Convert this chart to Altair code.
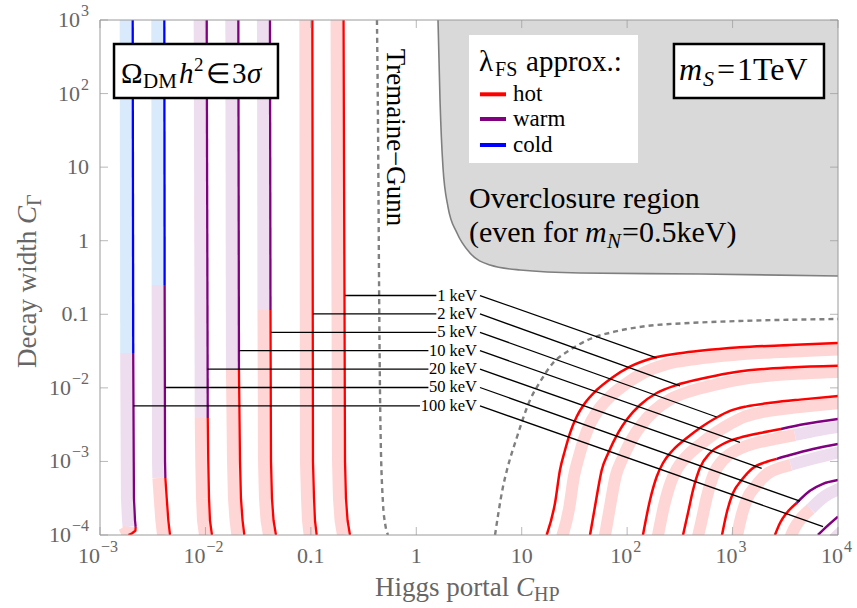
import altair as alt
import pandas as pd

SERIF = "Liberation Serif"
GREY_TXT = "#666666"

# ---------------- data: (log10 C_HP, log10 C_Gamma) ----------------
masses = ["1 keV", "2 keV", "5 keV", "10 keV", "20 keV", "50 keV", "100 keV"]

# left branch, listed top -> bottom
L1_x = [-0.690, -0.676, -0.667, -0.652, -0.629]
L1_y = [3.0, -3.0, -3.5, -3.8, -4.0]
L1_seg = [("hot", 0, 4)]
L2_x = [-0.986, -0.980, -0.970, -0.961, -0.945]
L2_y = [3.0, -3.0, -3.5, -3.8, -4.0]
L2_seg = [("hot", 0, 4)]
L5_x = [-1.388, -1.383, -1.378, -1.369, -1.354, -1.331]
L5_y = [3.0, -0.942, -3.0, -3.5, -3.8, -4.0]
L5_seg = [("warm", 0, 1), ("hot", 1, 5)]
L10_x = [-1.688, -1.682, -1.672, -1.663, -1.648, -1.631]
L10_y = [3.0, -1.757, -3.0, -3.5, -3.8, -4.0]
L10_seg = [("warm", 0, 1), ("hot", 1, 5)]
L20_x = [-1.988, -1.978, -1.973, -1.966, -1.957, -1.938]
L20_y = [3.0, -2.410, -3.0, -3.5, -3.8, -4.0]
L20_seg = [("warm", 0, 1), ("hot", 1, 5)]
L50_x = [-2.390, -2.387, -2.383, -2.380, -2.367, -2.352, -2.336]
L50_y = [3.0, -0.602, -3.0, -3.225, -3.5, -3.8, -4.0]
L50_seg = [("cold", 0, 1), ("warm", 1, 3), ("hot", 3, 6)]
L100_x = [-2.690, -2.685, -2.680, -2.678, -2.668, -2.662, -2.664, -2.695, -2.730]
L100_y = [3.0, -1.526, -3.0, -3.5, -3.8, -3.89, -3.94, -3.975, -4.0]
L100_seg = [("cold", 0, 1), ("warm", 1, 5), ("hot", 5, 8)]

# right branch, listed left -> right
R1_x = [1.237, 1.316, 1.363, 1.411, 1.458, 1.521, 1.600, 1.711, 1.853, 2.027, 2.245, 2.501, 2.690, 3.070, 3.544, 4.0]
R1_y = [-4.0, -3.565, -3.117, -2.845, -2.614, -2.392, -2.206, -2.029, -1.866, -1.712, -1.594, -1.530, -1.497, -1.449, -1.418, -1.390]
R1_seg = [("hot", 0, 15)]
R2_x = [1.648, 1.711, 1.759, 1.821, 1.913, 2.008, 2.122, 2.280, 2.470, 2.690, 2.960, 3.232, 3.544, 4.0]
R2_y = [-4.0, -3.480, -3.117, -2.886, -2.614, -2.410, -2.233, -2.070, -1.961, -1.880, -1.800, -1.752, -1.722, -1.699]
R2_seg = [("hot", 0, 13)]
R5_x = [2.150, 2.217, 2.280, 2.340, 2.435, 2.565, 2.690, 2.849, 2.975, 3.134, 3.383, 3.639, 4.0]
R5_y = [-4.0, -3.524, -3.208, -3.021, -2.845, -2.682, -2.546, -2.403, -2.314, -2.252, -2.200, -2.160, -2.111]
R5_seg = [("hot", 0, 12)]
R10_x = [2.530, 2.577, 2.625, 2.690, 2.786, 2.909, 3.070, 3.260, 3.459, 3.687, 4.0]
R10_y = [-4.0, -3.701, -3.388, -3.089, -2.886, -2.763, -2.676, -2.614, -2.559, -2.491, -2.423]
R10_seg = [("hot", 0, 8), ("warm", 8, 10)]
R20_x = [2.900, 2.944, 3.004, 3.086, 3.193, 3.324, 3.419, 3.545, 3.763, 4.0]
R20_y = [-4.0, -3.701, -3.429, -3.253, -3.089, -3.004, -2.965, -2.913, -2.832, -2.763]
R20_seg = [("hot", 0, 6), ("warm", 6, 9)]
R50_x = [3.402, 3.450, 3.513, 3.608, 3.734, 3.857, 4.0]
R50_y = [-4.0, -3.837, -3.701, -3.565, -3.400, -3.305, -3.253]
R50_seg = [("hot", 0, 3), ("warm", 3, 6)]
R100_x = [3.810, 3.892, 4.0]
R100_y = [-4.0, -3.887, -3.751]
R100_seg = [("warm", 0, 2)]

# Tremaine-Gunn bound (dashed)
TGL_x = [-0.373, -0.360, -0.354, -0.340, -0.316, -0.295, -0.268]
TGL_y = [3.0, 1.0, -0.4, -2.5, -3.565, -3.85, -4.0]
TGR_x = [0.747, 0.822, 0.860, 0.955, 1.079, 1.173, 1.297, 1.458, 1.648, 1.866, 2.188, 2.596, 3.070, 4.0]
TGR_y = [-4.0, -3.348, -3.117, -2.668, -2.165, -1.920, -1.662, -1.485, -1.336, -1.241, -1.159, -1.118, -1.091, -1.064]

# overclosure boundary
OC_x = [0.206, 0.225, 0.253, 0.301, 0.386, 0.509, 0.699, 0.984, 1.553, 2.691, 4.0]
OC_y = [3.0, 1.913, 1.002, 0.458, 0.105, -0.167, -0.330, -0.398, -0.439, -0.452, -0.480]

# mass labels and leader lines
lab_y = [-0.745, -0.995, -1.245, -1.495, -1.745, -1.995, -2.245]
hl_x0 = [-0.676, -0.980, -1.378, -1.682, -1.980, -2.383, -2.682]
hl_x1 = [0.190, 0.190, 0.190, 0.115, 0.115, 0.115, 0.035]
lab_x = 0.576
dg_x0 = 0.604
dg_x1 = [2.280, 2.501, 2.849, 3.070, 3.276, 3.639, 3.858]
dg_y1 = [-1.591, -1.973, -2.396, -2.742, -3.095, -3.541, -3.885]

x_ticks = [-3, -2, -1, 0, 1, 2, 3, 4]
y_ticks = [-4, -3, -2, -1, 0, 1, 2, 3]

# ---------------- helpers ----------------
XS = alt.Scale(type="log", domain=[1e-3, 1e4], nice=False)
YS = alt.Scale(type="log", domain=[1e-4, 1e3], nice=False)
CDOM = ["hot", "warm", "cold", "hot_band", "warm_band", "cold_band"]
CRNG = ["#ff0000", "#800080", "#0000ff", "#ffd6d6", "#eedcef", "#d8eafb"]
COLOR = alt.Color("cls:N", scale=alt.Scale(domain=CDOM, range=CRNG), legend=None)


def X(f="x"):
    return alt.X(f + ":Q", scale=XS, axis=None)


def Y(f="y"):
    return alt.Y(f + ":Q", scale=YS, axis=None)


def curve_rows(name, lx, ly, segs, band=False):
    rows = []
    for k, (cls, i0, i1) in enumerate(segs):
        for j in range(i0, i1 + 1):
            rows.append({"seg": f"{name}-{k}", "cls": cls + ("_band" if band else ""),
                         "x": 10 ** lx[j], "y": 10 ** ly[j], "o": j})
    return rows


LEFT = [("L1", L1_x, L1_y, L1_seg), ("L2", L2_x, L2_y, L2_seg), ("L5", L5_x, L5_y, L5_seg),
        ("L10", L10_x, L10_y, L10_seg), ("L20", L20_x, L20_y, L20_seg),
        ("L50", L50_x, L50_y, L50_seg), ("L100", L100_x, L100_y, L100_seg)]
RIGHT = [("R1", R1_x, R1_y, R1_seg), ("R2", R2_x, R2_y, R2_seg), ("R5", R5_x, R5_y, R5_seg),
         ("R10", R10_x, R10_y, R10_seg), ("R20", R20_x, R20_y, R20_seg),
         ("R50", R50_x, R50_y, R50_seg), ("R100", R100_x, R100_y, R100_seg)]


def df_curves(group, band=False):
    rows = []
    for c in group:
        rows += curve_rows(*c, band=band)
    return pd.DataFrame(rows)


def line_layer(df, width, interp="linear", **kw):
    return alt.Chart(df).mark_line(strokeWidth=width, clip=True, strokeCap="butt",
                                   interpolate=interp, **kw).encode(
        x=X(), y=Y(), color=COLOR, detail="seg:N", order="o:Q")


def piece(xl, yl, text, size, dx=0, dy=0, align="left", baseline="alphabetic",
          italic=False, color="black", angle=None):
    d = pd.DataFrame({"x": [10 ** xl], "y": [10 ** yl], "t": [text]})
    kw = dict(font=SERIF, fontSize=size, dx=dx, dy=dy, align=align,
              baseline=baseline, color=color)
    if italic:
        kw["fontStyle"] = "italic"
    if angle is not None:
        kw["angle"] = angle
    return alt.Chart(d).mark_text(**kw).encode(x=X(), y=Y(), text="t:N")


def box(x0, x1, y0, y1, stroke=None, sw=2):
    d = pd.DataFrame({"x": [10 ** x0], "x2": [10 ** x1], "y": [10 ** y0], "y2": [10 ** y1]})
    kw = dict(fill="white")
    if stroke:
        kw.update(stroke=stroke, strokeWidth=sw)
    return alt.Chart(d).mark_rect(**kw).encode(x=X(), x2="x2:Q", y=Y(), y2="y2:Q")


layers = []

# overclosure region
oc = pd.DataFrame({"x": [10 ** v for v in OC_x], "y": [10 ** v for v in OC_y],
                   "top": [1e3] * len(OC_x), "o": list(range(len(OC_x)))})
layers.append(alt.Chart(oc).mark_area(color="#d9d9d9", interpolate="monotone", clip=True).encode(
    x=X(), y=Y(), y2="top:Q"))
layers.append(alt.Chart(oc).mark_line(color="#7f7f7f", strokeWidth=1.6, interpolate="monotone",
                                      clip=True).encode(x=X(), y=Y(), order="o:Q"))

# pale bands
layers.append(line_layer(df_curves(LEFT, band=True), 12, xOffset=-7))
layers.append(line_layer(df_curves(RIGHT, band=True), 12, interp="monotone", xOffset=14, yOffset=6))

# Tremaine-Gunn dashed curves
tg = pd.DataFrame(
    [{"seg": "TGL", "x": 10 ** a, "y": 10 ** b, "o": i} for i, (a, b) in enumerate(zip(TGL_x, TGL_y))] +
    [{"seg": "TGR", "x": 10 ** a, "y": 10 ** b, "o": i} for i, (a, b) in enumerate(zip(TGR_x, TGR_y))])
layers.append(alt.Chart(tg).mark_line(color="#808080", strokeWidth=2.4, strokeDash=[5, 4],
                                      interpolate="monotone", clip=True).encode(
    x=X(), y=Y(), detail="seg:N", order="o:Q"))

# solid contour lines
layers.append(line_layer(df_curves(LEFT), 2.3))
layers.append(line_layer(df_curves(RIGHT), 2.5, interp="monotone"))

# leader lines
hl = pd.DataFrame({"x": [10 ** v for v in hl_x0], "x2": [10 ** v for v in hl_x1],
                   "y": [10 ** v for v in lab_y], "y2": [10 ** v for v in lab_y]})
dg = pd.DataFrame({"x": [10 ** dg_x0] * 7, "x2": [10 ** v for v in dg_x1],
                   "y": [10 ** v for v in lab_y], "y2": [10 ** v for v in dg_y1]})
for d in (hl, dg):
    layers.append(alt.Chart(d).mark_rule(color="black", strokeWidth=1.3).encode(
        x=X(), x2="x2:Q", y=Y(), y2="y2:Q"))

# mass labels
ml = pd.DataFrame({"x": [10 ** lab_x] * 7, "y": [10 ** v for v in lab_y], "t": masses})
layers.append(alt.Chart(ml).mark_text(font=SERIF, fontSize=16.5, align="right", baseline="middle",
                                      color="black").encode(x=X(), y=Y(), text="t:N"))

# boxes
layers.append(box(0.500, 2.103, 1.056, 2.796))
layers.append(box(-2.867, -1.312, 1.940, 2.674, stroke="black", sw=2.5))
layers.append(box(2.444, 3.867, 1.940, 2.674, stroke="black", sw=2.5))

# Omega box text
ax, ay = -2.801, 2.144
layers += [
    piece(ax, ay, "Ω", 29, dx=0),
    piece(ax, ay, "DM", 21, dx=22, dy=5),
    piece(ax, ay, "h", 29, dx=58, italic=True),
    piece(ax, ay, "2", 19, dx=73, dy=-12),
    piece(ax, ay, "∈", 28, dx=85),
    piece(ax, ay, "3", 29, dx=111),
    piece(ax, ay, "σ", 29, dx=126, italic=True),
]
# m_S box text
mx, my = 2.492, 2.184
layers += [
    piece(mx, my, "m", 32, dx=0, italic=True),
    piece(mx, my, "S", 22, dx=24, dy=6, italic=True),
    piece(mx, my, "=", 32, dx=38),
    piece(mx, my, "1TeV", 32, dx=58),
]
# legend
layers += [
    piece(0.595, 2.307, "λ", 29, dx=0),
    piece(0.595, 2.307, "FS", 20, dx=16, dy=5),
    piece(0.595, 2.307, "approx.:", 29, dx=47),
]
sw = pd.DataFrame({"x": [10 ** 0.604] * 3, "x2": [10 ** 0.851] * 3,
                   "y": [10 ** 1.990, 10 ** 1.654, 10 ** 1.301], "cls": ["hot", "warm", "cold"]})
layers.append(alt.Chart(sw).mark_rule(strokeWidth=4).encode(x=X(), x2="x2:Q", y=Y(), color=COLOR))
lg = pd.DataFrame({"x": [10 ** 0.917] * 3, "y": [10 ** 1.990, 10 ** 1.654, 10 ** 1.301],
                   "t": ["hot", "warm", "cold"]})
layers.append(alt.Chart(lg).mark_text(font=SERIF, fontSize=23, align="left", baseline="middle",
                                      color="black").encode(x=X(), y=Y(), text="t:N"))

# overclosure text
layers += [
    piece(0.500, 0.445, "Overclosure region", 30),
    piece(0.500, -0.018, "(even for", 30, dx=0),
    piece(0.500, -0.018, "m", 30, dx=116, italic=True),
    piece(0.500, -0.018, "N", 21, dx=138, dy=6, italic=True),
    piece(0.500, -0.018, "=0.5keV)", 30, dx=153),
]
# Tremaine-Gunn label
layers.append(piece(-0.202, 1.403, "Tremaine−Gunn", 27, align="center", baseline="middle", angle=90))

# axis titles
layers += [
    piece(-3.607, -1.730, "Decay width", 27, angle=270, color=GREY_TXT),
    piece(-3.607, -1.730, "C", 27, dx=144, angle=270, italic=True, color=GREY_TXT),
    piece(-3.607, -1.730, "Γ", 20, dx=162, dy=5, angle=270, color=GREY_TXT),
    piece(-0.392, -4.829, "Higgs portal", 27, color=GREY_TXT),
    piece(-0.392, -4.829, "C", 27, dx=141, italic=True, color=GREY_TXT),
    piece(-0.392, -4.829, "HP", 20, dx=159, dy=5, color=GREY_TXT),
]


# tick labels
def tick_text(xv, yv, texts, size, dx, dy, align):
    d = pd.DataFrame({"x": xv, "y": yv, "t": texts})
    return alt.Chart(d).mark_text(font=SERIF, fontSize=size, dx=dx, dy=dy, align=align,
                                  baseline="alphabetic", color=GREY_TXT).encode(x=X(), y=Y(), text="t:N")


def sup(e):
    return str(e).replace("-", "−")


xneg = [e for e in x_ticks if e <= -2]
xpos = [e for e in x_ticks if e >= 2]
xpl = [e for e in x_ticks if -1 <= e <= 1]
plain = {-1: "0.1", 0: "1", 1: "10"}
layers += [
    tick_text([10 ** e for e in xneg], [1e-4] * len(xneg), ["10"] * len(xneg), 22, 0, 28, "right"),
    tick_text([10 ** e for e in xneg], [1e-4] * len(xneg), [sup(e) for e in xneg], 16, 1, 17, "left"),
    tick_text([10 ** e for e in xpos], [1e-4] * len(xpos), ["10"] * len(xpos), 22, 5, 28, "right"),
    tick_text([10 ** e for e in xpos], [1e-4] * len(xpos), [sup(e) for e in xpos], 16, 6, 17, "left"),
    tick_text([10 ** e for e in xpl], [1e-4] * len(xpl), [plain[e] for e in xpl], 22, 0, 28, "center"),
]
yneg = [e for e in y_ticks if e <= -2]
ypos = [e for e in y_ticks if e >= 2]
ypl = [e for e in y_ticks if -1 <= e <= 1]
layers += [
    tick_text([1e-3] * len(yneg), [10 ** e for e in yneg], [sup(e) for e in yneg], 16, -11, -4, "right"),
    tick_text([1e-3] * len(yneg), [10 ** e for e in yneg], ["10"] * len(yneg), 22, -29, 7, "right"),
    tick_text([1e-3] * len(ypos), [10 ** e for e in ypos], [sup(e) for e in ypos], 16, -11, -4, "right"),
    tick_text([1e-3] * len(ypos), [10 ** e for e in ypos], ["10"] * len(ypos), 22, -20, 7, "right"),
    tick_text([1e-3] * len(ypl), [10 ** e for e in ypl], [plain[e] for e in ypl], 22, -11, 7, "right"),
]

# frame and inward ticks
frame = pd.DataFrame({"x": [1e-3], "x2": [1e4], "y": [1e-4], "y2": [1e3]})
layers.append(alt.Chart(frame).mark_rect(fillOpacity=0, stroke="#9a9a9a", strokeWidth=1).encode(
    x=X(), x2="x2:Q", y=Y(), y2="y2:Q"))
tx = [10 ** e for e in x_ticks]
ty = [10 ** e for e in y_ticks]
for yy, off in ((1e-4, -4), (1e3, 4)):
    layers.append(alt.Chart(pd.DataFrame({"x": tx, "y": [yy] * len(tx)})).mark_tick(
        orient="vertical", size=8, thickness=1, color="#9a9a9a", yOffset=off).encode(x=X(), y=Y()))
for xx, off in ((1e-3, 4), (1e4, -4)):
    layers.append(alt.Chart(pd.DataFrame({"x": [xx] * len(ty), "y": ty})).mark_tick(
        orient="horizontal", size=8, thickness=1, color="#9a9a9a", xOffset=off).encode(x=X(), y=Y()))

chart = alt.layer(*layers).properties(
    width=738, height=515,
    autosize=alt.AutoSizeParams(type="none"),
    padding={"left": 100, "top": 20, "right": 19, "bottom": 73},
    background="white",
).configure_view(stroke=None)

chart.save("out.html", embed_options={"renderer": "svg", "actions": False})
